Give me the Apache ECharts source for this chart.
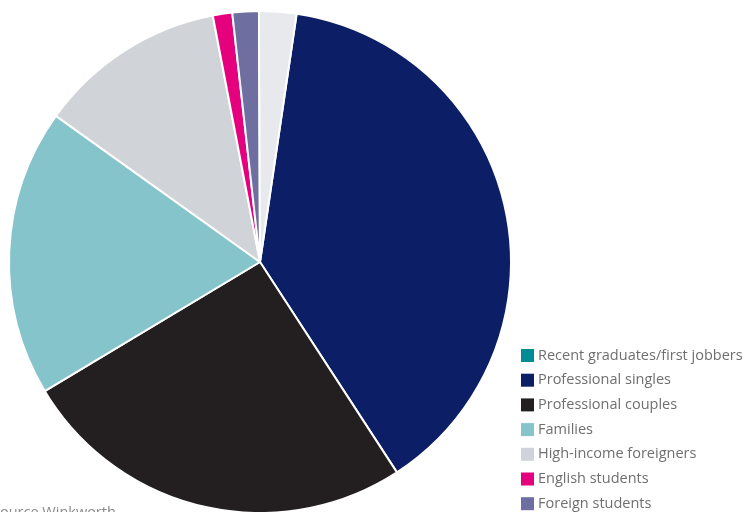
<!DOCTYPE html>
<html>
<head>
<meta charset="utf-8">
<script src="https://cdn.jsdelivr.net/npm/echarts@6/dist/echarts.min.js"></script>
<style>
html,body{margin:0;padding:0;background:#fff;}
#chart{width:749px;height:512px;}
</style>
</head>
<body>
<div id="chart"></div>
<script>
const categories = ["Recent graduates/first jobbers","Professional singles","Professional couples","Families","High-income foreigners","English students","Foreign students","Other"];
const values = [0, 38.5, 25.6, 18.5, 12.1, 1.25, 1.7, 2.4];
const colors = ["#008c95","#0c1f66","#231f20","#86c4cc","#d0d3d8","#e5007e","#6e6fa0","#e8e9ec"];
const legendNames = categories.slice(0, 7);
const sourceText = "Source Winkworth";

const chart = echarts.init(document.getElementById('chart'));
chart.setOption({
  animation: false,
  color: colors,
  legend: {
    data: legendNames,
    orient: 'vertical',
    left: 521,
    top: 348,
    height: 220,
    padding: 0,
    icon: 'rect',
    itemWidth: 13,
    itemHeight: 13,
    itemGap: 9.7,
    itemStyle: {borderWidth: 0},
    textStyle: {fontFamily: 'Open Sans', fontSize: 14.5, color: '#6f6f6f', padding: [0,0,0,-1]},
    selectedMode: false
  },
  graphic: [{
    type: 'text',
    left: -8,
    top: 505,
    style: {text: sourceText, font: '14.5px "Open Sans"', fill: '#8a8a8a'}
  }],
  series: [{
    type: 'pie',
    center: [260, 262],
    radius: 251,
    startAngle: 81.6,
    clockwise: true,
    label: {show: false},
    labelLine: {show: false},
    emphasis: {disabled: true},
    itemStyle: {borderColor: '#fff', borderWidth: 2},
    data: categories.map((c, i) => ({name: c, value: values[i]}))
  }]
});
</script>
</body>
</html>
